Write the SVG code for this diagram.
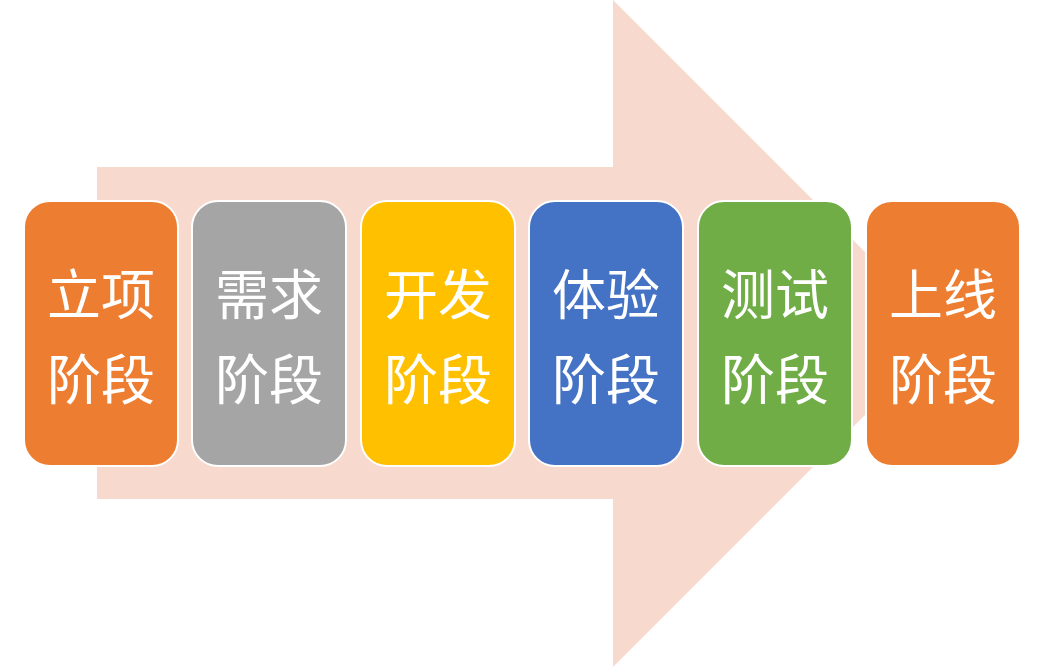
<svg xmlns="http://www.w3.org/2000/svg" width="1044" height="667" viewBox="0 0 1044 667">
<style>
.box{stroke:#FFFFFF;stroke-width:2}
.t{font-family:"Noto Sans CJK SC","Noto Sans",sans-serif;font-size:54px;fill:#FFFFFF;text-anchor:middle;dominant-baseline:central}
</style>
<rect width="1044" height="667" fill="#FFFFFF"/>
<g id="arrow">
<polygon points="97,167 613,167 613,0 946.5,333.5 613,667 613,499 97,499" fill="#F8D9CE"/>
</g>
<g id="connectors"></g>
<g id="n1"><rect class="box" x="24" y="201" width="154" height="265" rx="26" fill="#ED7D31"/><text class="t" x="101" y="291">立项</text><text class="t" x="101" y="376">阶段</text></g>
<g id="n2"><rect class="box" x="192" y="201" width="154" height="265" rx="26" fill="#A5A5A5"/><text class="t" x="269" y="291">需求</text><text class="t" x="269" y="376">阶段</text></g>
<g id="n3"><rect class="box" x="361" y="201" width="154" height="265" rx="26" fill="#FFC000"/><text class="t" x="438" y="291">开发</text><text class="t" x="438" y="376">阶段</text></g>
<g id="n4"><rect class="box" x="529" y="201" width="154" height="265" rx="26" fill="#4472C4"/><text class="t" x="606" y="291">体验</text><text class="t" x="606" y="376">阶段</text></g>
<g id="n5"><rect class="box" x="698" y="201" width="154" height="265" rx="26" fill="#70AD47"/><text class="t" x="775" y="291">测试</text><text class="t" x="775" y="376">阶段</text></g>
<g id="n6"><rect class="box" x="866" y="201" width="154" height="265" rx="26" fill="#ED7D31"/><text class="t" x="943" y="291">上线</text><text class="t" x="943" y="376">阶段</text></g>
</svg>
